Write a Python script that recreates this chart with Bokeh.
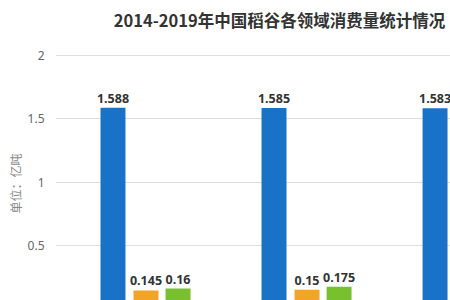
from bokeh.plotting import figure
from bokeh.models import Range1d, FixedTicker, Label, ColumnDataSource, Title
from bokeh.transform import dodge
from bokeh.embed import file_html
from bokeh.resources import INLINE

title_text = "2014-2019年中国稻谷各领域消费量统计情况"
y_label = "单位：亿吨"
groups = [0, 1, 2]
food = [1.588, 1.585, 1.583]
feed = [0.145, 0.15, None]
industry = [0.16, 0.175, None]
y_ticks = [0.5, 1, 1.5, 2]

colors = ["#1873C8", "#F2A426", "#78C02E"]
offsets = [0.0, 0.205, 0.404]
bw = 0.155

p = figure(width=450, height=300, output_backend="svg", toolbar_location=None,
           x_range=Range1d(-0.357, 2.096), y_range=Range1d(0.066, 2.434),
           min_border_left=55, min_border_right=0, min_border_top=0, min_border_bottom=0)
p.outline_line_color = None
p.background_fill_color = "white"
p.border_fill_color = "white"
p.xaxis.visible = False
p.xgrid.grid_line_color = None
p.ygrid.grid_line_color = "#DDDDDD"
p.ygrid.ticker = FixedTicker(ticks=y_ticks)
p.yaxis.ticker = FixedTicker(ticks=y_ticks)
p.yaxis.axis_line_color = None
p.yaxis.major_tick_line_color = None
p.yaxis.minor_tick_line_color = None
p.yaxis.major_label_standoff = 5
p.yaxis.major_label_text_font = "Noto Sans"
p.yaxis.major_label_text_font_size = "12px"
p.yaxis.major_label_text_color = "#666666"

series = [food, feed, industry]
for vals, c, off in zip(series, colors, offsets):
    xs = [g for g, v in zip(groups, vals) if v is not None]
    vs = [v for v in vals if v is not None]
    src = ColumnDataSource(dict(x=xs, top=vs, lbl=[f"{v:g}" for v in vs]))
    p.vbar(x=dodge("x", off), top="top", bottom=0, width=bw, source=src,
           fill_color=c, line_color=None)
    p.text(x=dodge("x", off), y="top", text="lbl", source=src,
           text_align="center", text_baseline="bottom", y_offset=-5,
           text_font_size="12.5px", text_font_style="bold", text_color="#333333",
           text_font={"value": "Noto Sans"})

p.add_layout(Label(x=1.034, y=2.277, text=title_text, text_align="center",
                   text_baseline="middle", text_font="Noto Sans CJK SC",
                   text_font_size="16.5px", text_font_style="bold", text_color="#333333"))
p.add_layout(Title(text=y_label, align="left", offset=87, standoff=2,
                   text_font="Noto Sans CJK SC", text_font_size="12px",
                   text_font_style="normal", text_color="#888888"), "left")

open("out.html", "w").write(file_html(p, INLINE))
